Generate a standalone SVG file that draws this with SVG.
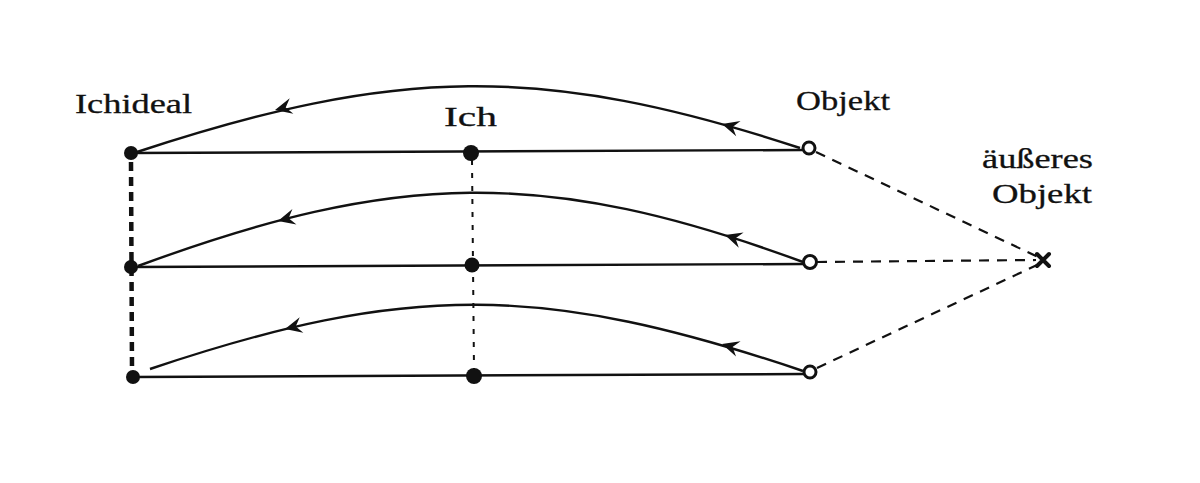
<svg xmlns="http://www.w3.org/2000/svg" width="1200" height="483" viewBox="0 0 1200 483">
<defs>
<style>
.lbl{font-family:"Liberation Serif","DejaVu Serif",serif;font-size:28px;fill:#111;stroke:#111;stroke-width:0.3}
.ln{fill:none;stroke:#111;stroke-width:2.4}
.arc{fill:none;stroke:#111;stroke-width:2.4}
.dl{fill:none;stroke:#111;stroke-width:2.2;stroke-dasharray:10 8}
.dthick{fill:none;stroke:#111;stroke-width:4.5;stroke-dasharray:9 6}
.dthin{fill:none;stroke:#111;stroke-width:2;stroke-dasharray:5 8}
.full{fill:#111}
.open{fill:#fff;stroke:#111;stroke-width:3}
</style>
<path id="ah" d="M0,0 L-17,-8 L-11,0 L-17,8 Z" fill="#111"/>
</defs>
<rect width="1200" height="483" fill="#fff"/>
<g id="connectors">
<path class="ln" d="M131,153 L802,150"/>
<path class="ln" d="M131,267 L803,264"/>
<path class="ln" d="M133,377 L804,374"/>
<path class="arc" d="M800,148 C542,63 395,67 137,152"/>
<path class="arc" d="M803,262 C545,167 396,171 138,266"/>
<path class="arc" d="M803,371 C545,284 408,282 150,369"/>
<use href="#ah" transform="translate(722,124) rotate(195.8)"/>
<use href="#ah" transform="translate(275,110) rotate(166.7)"/>
<use href="#ah" transform="translate(725,235) rotate(197.6)"/>
<use href="#ah" transform="translate(278,221) rotate(165.3)"/>
<use href="#ah" transform="translate(722,344) rotate(196.5)"/>
<use href="#ah" transform="translate(285,329) rotate(166.7)"/>
<path class="dthick" d="M131,162 L132,370"/>
<path class="dthin" d="M472,160 L474,370"/>
<path class="dl" d="M816,152 L1038,257"/>
<path class="dl" d="M817,262 L1036,260"/>
<path class="dl" d="M817,368 L1037,265"/>
</g>
<g id="ichideal">
<text class="lbl" x="75" y="113" textLength="117" lengthAdjust="spacingAndGlyphs">Ichideal</text>
<circle class="full" cx="131" cy="153" r="7"/>
<circle class="full" cx="131" cy="267" r="7"/>
<circle class="full" cx="133" cy="377" r="7"/>
</g>
<g id="ich">
<text class="lbl" x="444" y="126" textLength="53" lengthAdjust="spacingAndGlyphs">Ich</text>
<circle class="full" cx="471" cy="153" r="8"/>
<circle class="full" cx="472" cy="265" r="7.5"/>
<circle class="full" cx="474" cy="376" r="8"/>
</g>
<g id="objekt">
<text class="lbl" x="796" y="110" textLength="94" lengthAdjust="spacingAndGlyphs">Objekt</text>
<circle class="open" cx="809" cy="148" r="6"/>
<circle class="open" cx="810" cy="262" r="6.5"/>
<circle class="open" cx="810" cy="372" r="6"/>
</g>
<g id="aeusseres-objekt">
<text class="lbl" x="982" y="168" textLength="111" lengthAdjust="spacingAndGlyphs">äußeres</text>
<text class="lbl" x="992" y="203" textLength="100" lengthAdjust="spacingAndGlyphs">Objekt</text>
<path d="M1037,254 L1049,266 M1049,254 L1037,266" stroke="#111" stroke-width="4" stroke-linecap="round"/>
</g>
</svg>
